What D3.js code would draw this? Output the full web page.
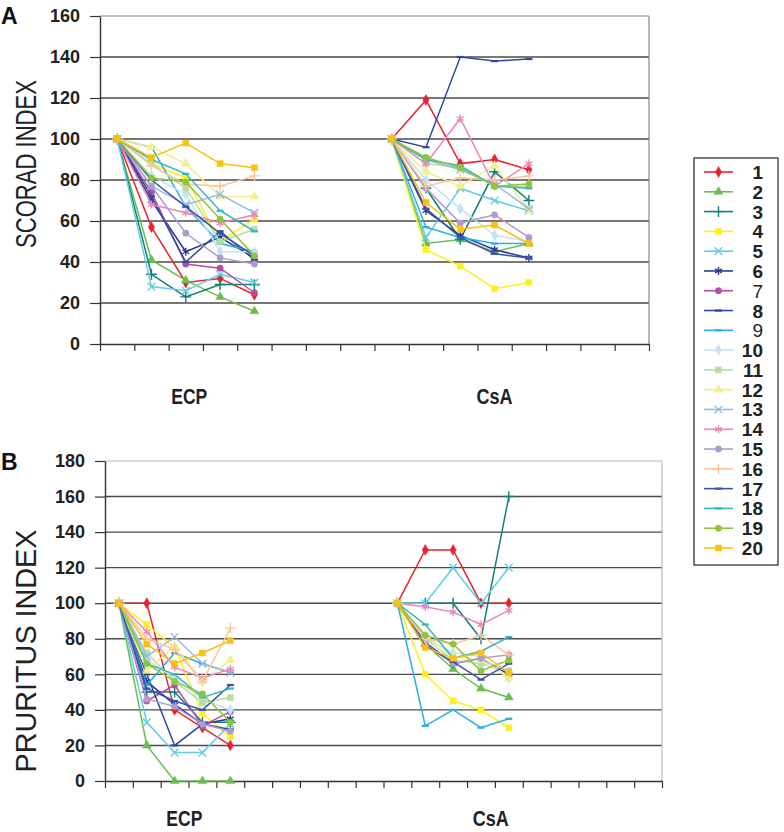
<!DOCTYPE html>
<html><head><meta charset="utf-8">
<script src="https://cdn.jsdelivr.net/npm/d3@7"></script>
<style>body{margin:0;background:#fff}</style></head>
<body>
<svg id="c" width="784" height="832"></svg>
<script>
// ---------- DATA ----------
const seriesNames = ["1","2","3","4","5","6","7","8","9","10","11","12","13","14","15","16","17","18","19","20"];
const groupLabels = ["ECP","CsA"];
const scoradTicks = [0,20,40,60,80,100,120,140,160];
const pruritusTicks = [0,20,40,60,80,100,120,140,160,180];

// SCORAD, ECP group (5 time points per patient)
const scoradECP = [
  [100,57,30,32,24],[100,41,31,23,16],[100,34,23,29,29],[100,88,81,50,61],[100,28,26,34,30],
  [100,70,45,52,42],[100,74,39,37,25],[100,72,40,55,41],[100,96,67,49,45],[100,82,73,45,45],
  [100,88,76,50,56],[100,96,88,72,72],[100,77,68,73,64],[100,68,64,59,63],[100,77,54,42,39],
  [100,87,78,77,82],[100,80,67,54,43],[100,90,83,65,55],[100,81,79,61,43],[100,91,98,88,86]
];
// SCORAD, CsA group
const scoradCsA = [
  [100,119,88,90,85],[100,49,51,45,49],[100,76,51,84,70],[100,46,38,27,30],[100,52,76,70,65],
  [100,65,53,46,42],[null,null,null,null,null],[100,96,140,138,139],[100,57,52,49,49],[100,80,66,53,50],
  [100,88,86,77,77],[100,84,77,87,65],[100,90,85,78,66],[100,88,110,77,88],[100,76,59,63,52],
  [100,77,81,80,82],[100,66,52,44,42],[100,90,87,77,76],[100,91,86,77,78],[100,69,56,58,49]
];
// Pruritus, ECP group
const pruritusECP = [
  [100,100,40,30,20],[100,20,0,0,0],[100,50,50,33,33],[100,88,75,38,25],[100,33,16,16,32],
  [100,56,43,32,35],[100,45,54,31,39],[100,60,20,32,29],[100,54,72,66,61],[100,68,58,46,40],
  [100,72,56,44,47],[100,62,76,56,68],[100,70,81,66,61],[100,84,64,58,63],[100,46,42,32,28],
  [100,80,74,56,86],[100,52,45,40,54],[100,66,60,47,52],[100,66,56,49,33],[100,77,66,72,79]
];
// Pruritus, CsA group
const pruritusCsA = [
  [100,130,130,100,100],[100,77,63,52,47],[100,100,100,80,160],[100,60,45,40,30],[100,100,120,100,120],
  [100,78,66,69,60],[null,null,null,null,null],[null,null,null,null,null],[100,31,40,30,35],[100,80,72,70,58],
  [100,80,68,66,62],[100,82,70,68,58],[null,null,null,null,null],[100,98,95,88,96],[100,77,66,69,71],
  [100,80,77,82,71],[100,76,67,57,66],[100,88,69,73,81],[100,82,77,62,68],[100,75,69,72,61]
];

// ---------- STYLE ----------
const colors = ["#e8232b","#6cbd4f","#127f78","#fff01a","#62cde6","#2b3a91","#b64ea3","#2e4a9e","#2aaee3","#c3e2f4",
                "#b8dda4","#f5ee8c","#95bbe4","#ee86b8","#b09ad0","#f8c59c","#3a55a6","#36b5c2","#8cc63f","#fcc010"];
const markers = ["diamond","triangle","plus","square","times","asterisk","circle","dash","dash","diamond",
                 "square","triangle","times","asterisk","circle","plus","dash","dash","circle","square"];
const legendBold = s => !(s === "7" || s === "9");

const svg = d3.select("#c");
const FONT = "'Liberation Sans', Arial, sans-serif";

function markerPath(type){
  const m = {diamond:[d3.symbolDiamond,34], triangle:[d3.symbolTriangle,34], square:[d3.symbolSquare,36],
             circle:[d3.symbolCircle,32], plus:[d3.symbolPlus,40], times:[d3.symbolTimes,40], asterisk:[d3.symbolAsterisk,44]};
  if (type === "dash") return "M-3.5,0H3.5";
  const [t,s] = m[type];
  return d3.symbol().type(t).size(s)();
}
const filled = t => ["diamond","triangle","square","circle"].includes(t);

const panels = [
  {letter:"A", ticks:scoradTicks, yMax:160, nCats:16, left:100, right:649, top:16, bottom:344,
   groups:[{start:0,data:scoradECP},{start:8,data:scoradCsA}], labelPos:[2.6,11.5], labelY:404,
   title:"SCORAD INDEX", titleCy:164, titleLen:168, letterY:24, frame:"#888"},
  {letter:"B", ticks:pruritusTicks, yMax:180, nCats:20, left:105, right:662, top:461, bottom:781,
   groups:[{start:0,data:pruritusECP},{start:10,data:pruritusCsA}], labelPos:[2.85,13.85], labelY:826,
   title:"PRURITUS INDEX", titleCy:651, titleLen:243, letterY:470, frame:"#bbb"}
];

panels.forEach(p => {
  const g = svg.append("g");
  const cats = d3.range(p.nCats).map(String);
  const x = d3.scaleBand().domain(cats).range([p.left, p.right]).padding(0);
  const xIdx = d3.scaleLinear().domain([0, p.nCats]).range([p.left, p.right]);
  const y = d3.scaleLinear().domain([0, p.yMax]).range([p.bottom, p.top]);

  // gridlines
  g.selectAll(".grid").data(p.ticks.filter(t => t > 0 && t < p.yMax)).join("line")
    .attr("x1", p.left).attr("x2", p.right).attr("y1", d => y(d)).attr("y2", d => y(d))
    .attr("stroke", "#4a4a4a").attr("stroke-width", 1.4);
  // frame top & right
  g.append("line").attr("x1", p.left).attr("x2", p.right).attr("y1", y(p.yMax)).attr("y2", y(p.yMax))
    .attr("stroke", p.frame).attr("stroke-width", 1.2);
  g.append("line").attr("x1", p.right).attr("x2", p.right).attr("y1", y(p.yMax)).attr("y2", y(0))
    .attr("stroke", p.frame).attr("stroke-width", 1.2);

  // y axis
  const ya = d3.axisLeft(y).tickValues(p.ticks).tickSize(10).tickPadding(10).tickSizeOuter(0);
  const yg = g.append("g").attr("transform", `translate(${p.left},0)`).call(ya);
  yg.select(".domain").attr("stroke", "#333").attr("stroke-width", 1.4);
  yg.selectAll(".tick line").attr("stroke", "#333").attr("stroke-width", 1.2);
  yg.selectAll(".tick text").attr("font-family", FONT).attr("font-weight", "bold")
    .attr("font-size", 18).attr("fill", "#222");

  // x axis (category boundaries)
  const xa = d3.axisBottom(xIdx).tickValues(d3.range(p.nCats + 1)).tickSize(7).tickFormat("").tickSizeOuter(0);
  const xg = g.append("g").attr("transform", `translate(0,${y(0)})`).call(xa);
  xg.select(".domain").attr("stroke", "#333").attr("stroke-width", 1.4);
  xg.selectAll(".tick line").attr("stroke", "#333").attr("stroke-width", 1.2);

  // group labels
  groupLabels.forEach((lab, i) => {
    g.append("text").attr("x", xIdx(p.labelPos[i])).attr("y", p.labelY)
      .attr("text-anchor", "middle").attr("font-family", FONT).attr("font-weight", "bold")
      .attr("font-size", 22).attr("fill", "#222").attr("textLength", 36).attr("lengthAdjust", "spacingAndGlyphs")
      .text(lab);
  });

  // y title
  g.append("text").attr("transform", `translate(36,${p.titleCy}) rotate(-90)`)
    .attr("text-anchor", "middle").attr("font-family", FONT).attr("font-size", 30).attr("fill", "#222")
    .attr("textLength", p.titleLen).attr("lengthAdjust", "spacingAndGlyphs").text(p.title);

  // panel letter
  g.append("text").attr("x", 1).attr("y", p.letterY).attr("font-family", FONT).attr("font-weight", "bold")
    .attr("font-size", 23).attr("fill", "#111").text(p.letter);

  // series
  const line = d3.line().defined(d => d.v != null).x(d => x(String(d.c)) + x.bandwidth()/2).y(d => y(d.v));
  p.groups.forEach(gr => {
    gr.data.forEach((vals, si) => {
      const pts = vals.map((v, k) => ({c: gr.start + k, v}));
      if (pts.every(d => d.v == null)) return;
      g.append("path").datum(pts).attr("d", line).attr("fill", "none")
        .attr("stroke", colors[si]).attr("stroke-width", 1.5);
      const mk = markers[si];
      g.selectAll(null).data(pts.filter(d => d.v != null)).join("path")
        .attr("transform", d => `translate(${x(String(d.c)) + x.bandwidth()/2},${y(d.v)})`)
        .attr("d", markerPath(mk))
        .attr("fill", filled(mk) ? colors[si] : "none")
        .attr("stroke", colors[si]).attr("stroke-width", filled(mk) ? 0.5 : (mk === "dash" ? 2.2 : 1.4));
    });
  });
});

// legend
const lg = svg.append("g");
lg.append("rect").attr("x", 694).attr("y", 158).attr("width", 84).attr("height", 407)
  .attr("fill", "#fff").attr("stroke", "#333").attr("stroke-width", 1.3);
const ly = d3.scalePoint().domain(seriesNames).range([172, 548]);
seriesNames.forEach((s, i) => {
  const yy = ly(s);
  lg.append("line").attr("x1", 704).attr("x2", 733).attr("y1", yy).attr("y2", yy)
    .attr("stroke", colors[i]).attr("stroke-width", 1.6);
  const mk = markers[i];
  lg.append("path").attr("transform", `translate(718.5,${yy})`).attr("d", markerPath(mk))
    .attr("fill", filled(mk) ? colors[i] : "none").attr("stroke", colors[i])
    .attr("stroke-width", filled(mk) ? 0.5 : (mk === "dash" ? 2.2 : 1.4));
  lg.append("text").attr("x", 763).attr("y", yy + 7).attr("text-anchor", "end")
    .attr("font-family", FONT).attr("font-weight", legendBold(s) ? "bold" : "normal")
    .attr("font-size", 19).attr("fill", "#222").text(s);
});
</script>
</body></html>
